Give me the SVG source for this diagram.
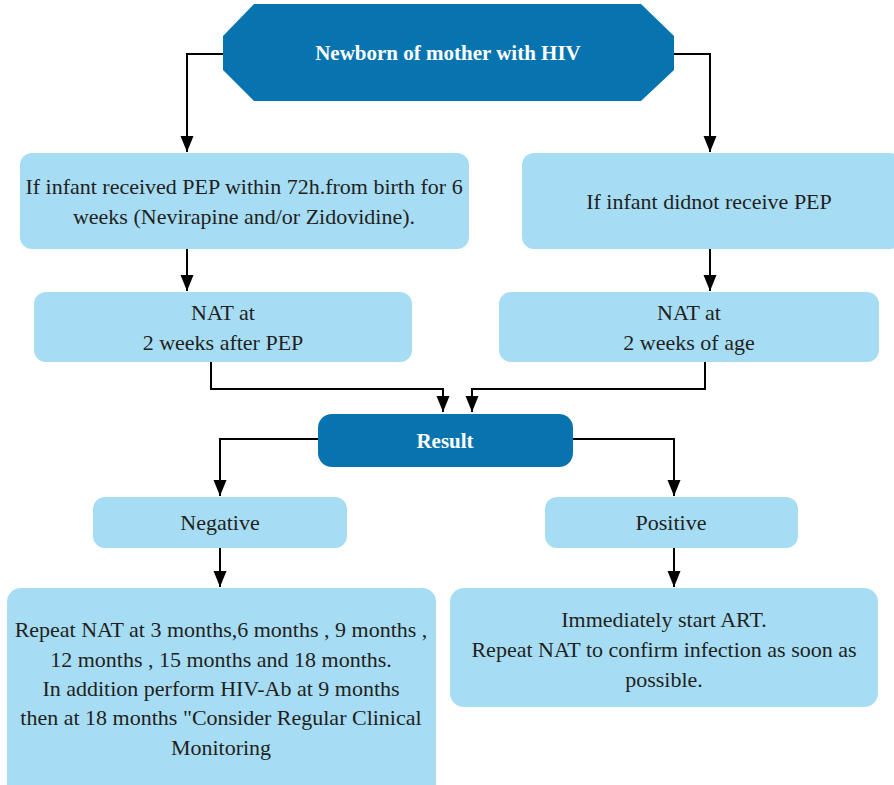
<svg xmlns="http://www.w3.org/2000/svg" width="894" height="785" viewBox="0 0 894 785">
<defs>
<marker id="arr" markerUnits="userSpaceOnUse" markerWidth="16" markerHeight="14" viewBox="0 0 16 14" refX="16" refY="7" orient="auto">
<path d="M0,0.5 L16,7 L0,13.5 Z" fill="#000"/>
</marker>
</defs>
<style>
.dark{fill:#0774B0}
.light{fill:#A6DDF5}
text{font-family:'Liberation Serif','Times New Roman',serif;text-anchor:middle}
.t{fill:#231F20;font-size:22px}
.w{font-weight:bold;fill:#fff;font-size:21px}
.c{fill:none;stroke:#000;stroke-width:2}
</style>
<rect width="894" height="785" fill="#fff"/>
<g id="connectors">
<path class="c" d="M223,54 H187 V152" marker-end="url(#arr)"/>
<path class="c" d="M674,54 H710 V152" marker-end="url(#arr)"/>
<path class="c" d="M187,249 V291" marker-end="url(#arr)"/>
<path class="c" d="M710,249 V291" marker-end="url(#arr)"/>
<path class="c" d="M211,362 V389 H443 V412" marker-end="url(#arr)"/>
<path class="c" d="M705,362 V389 H472 V412" marker-end="url(#arr)"/>
<path class="c" d="M318,439 H220 V496" marker-end="url(#arr)"/>
<path class="c" d="M573,439 H674 V496" marker-end="url(#arr)"/>
<path class="c" d="M220,548 V587" marker-end="url(#arr)"/>
<path class="c" d="M674,548 V587" marker-end="url(#arr)"/>
</g>
<g id="n-newborn">
<polygon class="dark" points="254,4 641,4 674,36 674,70 641,101 254,101 223,70 223,36"/>
<text class="w" x="448" y="60">Newborn of mother with HIV</text>
</g>
<g id="n-pep">
<rect class="light" x="20" y="153" width="449" height="96" rx="12"/>
<text class="t" x="244" y="194">If infant received PEP within 72h.from birth for 6</text>
<text class="t" x="244" y="224">weeks (Nevirapine and/or Zidovidine).</text>
</g>
<g id="n-nopep">
<rect class="light" x="522" y="153" width="380" height="96" rx="12"/>
<text class="t" x="709" y="209">If infant didnot receive PEP</text>
</g>
<g id="n-nat1">
<rect class="light" x="34" y="292" width="378" height="70" rx="12"/>
<text class="t" x="223" y="320">NAT at</text>
<text class="t" x="223" y="350">2 weeks after  PEP</text>
</g>
<g id="n-nat2">
<rect class="light" x="499" y="292" width="380" height="70" rx="12"/>
<text class="t" x="689" y="320">NAT at</text>
<text class="t" x="689" y="350">2 weeks of age</text>
</g>
<g id="n-result">
<rect class="dark" x="318" y="414" width="255" height="53" rx="14"/>
<text class="w" x="445" y="448">Result</text>
</g>
<g id="n-neg">
<rect class="light" x="93" y="497" width="254" height="51" rx="12"/>
<text class="t" x="220" y="530">Negative</text>
</g>
<g id="n-pos">
<rect class="light" x="545" y="497" width="253" height="51" rx="12"/>
<text class="t" x="671" y="530">Positive</text>
</g>
<g id="n-negaction">
<rect class="light" x="7" y="588" width="429" height="210" rx="14"/>
<text class="t" x="221" y="637">Repeat NAT at 3 months,6 months , 9 months ,</text>
<text class="t" x="221" y="667">12 months , 15 months and 18 months.</text>
<text class="t" x="221" y="696">In addition perform HIV-Ab at 9 months</text>
<text class="t" x="221" y="725">then at 18 months "Consider Regular Clinical</text>
<text class="t" x="221" y="755">Monitoring</text>
</g>
<g id="n-posaction">
<rect class="light" x="450" y="588" width="428" height="119" rx="14"/>
<text class="t" x="664" y="627">Immediately start ART.</text>
<text class="t" x="664" y="657">Repeat NAT to confirm infection as soon as</text>
<text class="t" x="664" y="687">possible.</text>
</g>
</svg>
